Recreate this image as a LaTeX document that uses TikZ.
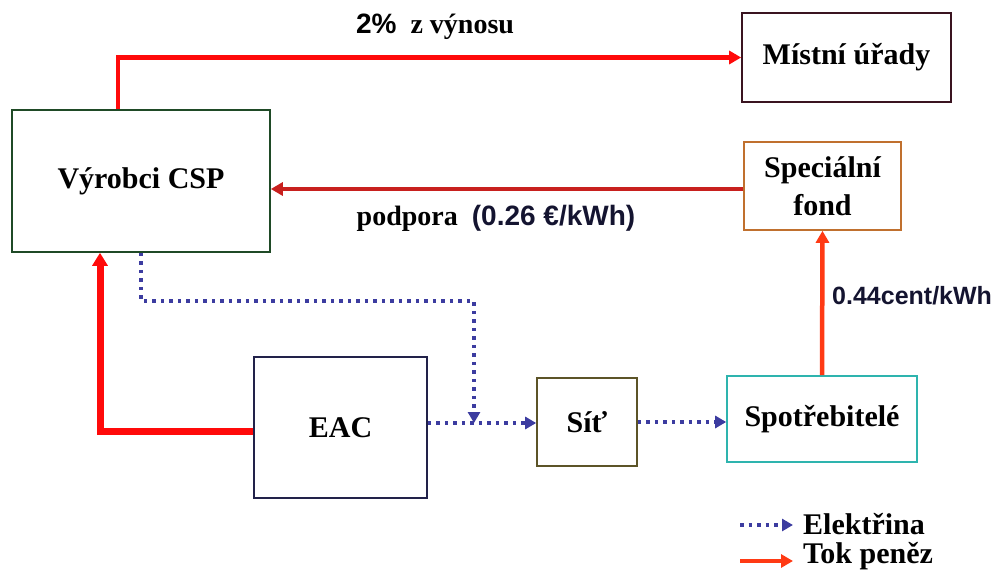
\documentclass[tikz,border=0pt]{standalone}
\usepackage{fontspec}
\setmainfont{Liberation Serif}
\setsansfont{Liberation Sans}
\usetikzlibrary{arrows.meta,calc}
\definecolor{vyrgreen}{HTML}{1F4A26}
\definecolor{mistmaroon}{HTML}{3A1420}
\definecolor{fondorange}{HTML}{C0702E}
\definecolor{eacnavy}{HTML}{22224A}
\definecolor{sitolive}{HTML}{5C5428}
\definecolor{spotteal}{HTML}{2EB4AE}
\definecolor{moneyred}{HTML}{FF0A0A}
\definecolor{supportred}{HTML}{C8201E}
\definecolor{feered}{HTML}{FF3A14}
\definecolor{elecblue}{HTML}{3C3CA0}
\definecolor{labnavy}{HTML}{141430}
\begin{document}
\begin{tikzpicture}[x=1pt,y=-1pt,
  box/.style={draw, line width=1.6pt, fill=white, text=black, inner sep=0pt, align=center,
    font=\fontsize{30}{38}\selectfont\bfseries},
  money/.style={moneyred, line width=4.5pt, -{Triangle[length=12pt,width=13pt]}},
  elec/.style={elecblue, line width=3.5pt, dash pattern=on 3.5pt off 5pt,
    -{Triangle[length=11pt,width=12pt]}},
  lab/.style={inner sep=0pt, font=\fontsize{28}{32}\selectfont\bfseries},
  legtext/.style={inner sep=0pt, anchor=west, font=\fontsize{30}{34}\selectfont\bfseries}]
\useasboundingbox (0,0) rectangle (991,572);

% boxes
\node[box, draw=vyrgreen, minimum width=258pt, minimum height=142pt] (vyr) at (141,181) {V\'yrobci CSP};
\node[box, draw=mistmaroon, minimum width=209pt, minimum height=89pt] (mistni) at (846.5,57.5) {M\'{\i}stn\'{\i} \'u\v{r}ady};
\node[box, draw=fondorange, minimum width=157pt, minimum height=88pt] (fond) at (822.5,186) {Speci\'aln\'{\i}\\fond};
\node[box, draw=eacnavy, minimum width=173pt, minimum height=141pt] (eac) at (340.5,427.5) {EAC};
\node[box, draw=sitolive, minimum width=100pt, minimum height=88pt] (sit) at (587,422) {Sí\v{t}};
\node[box, draw=spotteal, minimum width=190pt, minimum height=86pt] (spot) at (822,419) {Spot\v{r}ebitel\'e};

% money flows
\coordinate (t1) at (118,57.5);
\draw[money] (vyr.north -| t1) -- (t1) -- (mistni.west);
\node[lab] (l1) at (435,27) {{\sffamily 2\%}\ \ z v\'ynosu};

\draw[money, supportred] (fond.west |- 0,189) -- (vyr.east |- 0,189);
\node[lab] (l2) at (496,218) {podpora\ \ {\sffamily\color{labnavy}(0.26 €/kWh)}};

\draw[money, feered] (spot.north) -- (fond.south);
\node[lab, anchor=west, font=\fontsize{25}{28}\selectfont\bfseries\sffamily, text=labnavy] (l3) at (832,296) {0.44cent/kWh};

\coordinate (k) at (100,431);
\draw[moneyred, line width=7pt, -{Triangle[length=13pt,width=15pt]}] (eac.west |- k) -- (k) -- (k |- vyr.south);

% electricity flows
\coordinate (d1) at (141,301);
\coordinate (j) at (474,423);
\draw[elec] (vyr.south -| d1) -- (d1) -- (d1 -| j) -- (j);
\draw[elec] (eac.east |- j) -- (sit.west |- j);
\draw[elec] (sit.east |- 0,422) -- (spot.west |- 0,422);

% legend
\coordinate (la1) at (740,525);
\coordinate (la2) at (793,525);
\coordinate (lb1) at (740,561);
\coordinate (lb2) at (793,561);
\draw[elec] (la1) -- (la2);
\node[legtext] (lt1) at (803,524) {Elekt\v{r}ina};
\draw[money, feered] (lb1) -- (lb2);
\node[legtext] (lt2) at (803,556) {Tok pen\v{e}z};
\end{tikzpicture}
\end{document}
